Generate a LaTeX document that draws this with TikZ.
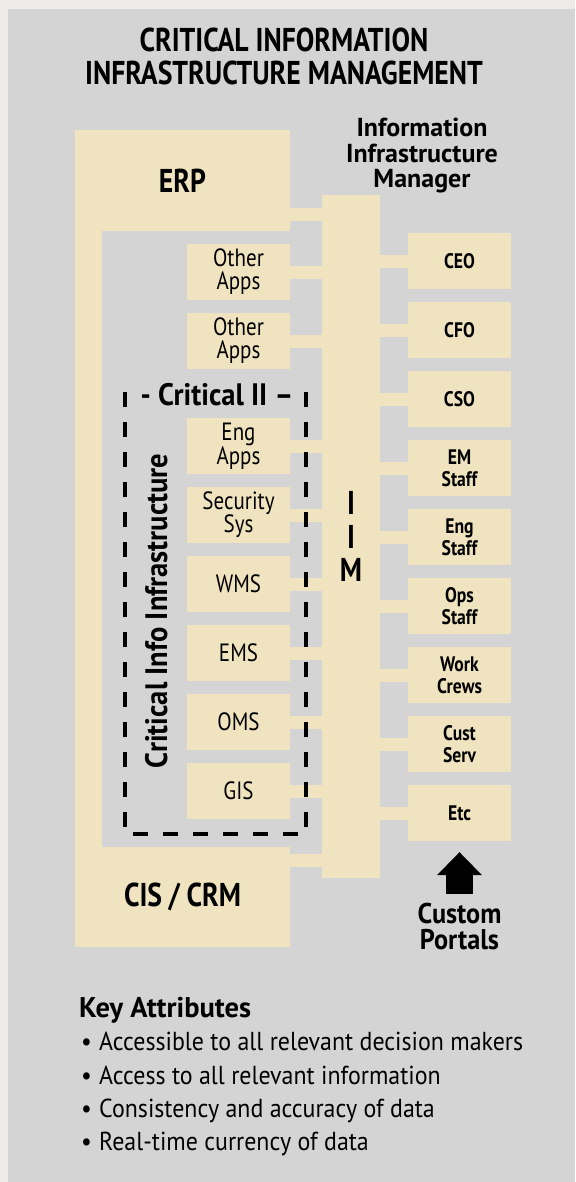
\documentclass[tikz,border=0pt]{standalone}
\usepackage{fontspec}
\setmainfont{PT Sans}[FakeStretch=0.84]
\newfontfamily\midsans{PT Sans}[FakeStretch=0.92]
\newfontfamily\plainsans{PT Sans}
\usepackage{xcolor}
\usepackage{tikz}
\usetikzlibrary{arrows.meta}

\definecolor{paper}{RGB}{238,236,233}
\definecolor{panelgray}{RGB}{212,212,212}
\definecolor{boxtan}{RGB}{240,228,192}

\begin{document}
\begin{tikzpicture}[x=1pt, y=-1pt,
    sysbox/.style={fill=boxtan, inner sep=0pt, minimum width=215pt, minimum height=101pt,
                   font=\bfseries\fontsize{33}{33}\selectfont},
    appbox/.style={fill=boxtan, inner sep=0pt, minimum width=103pt, minimum height=56pt,
                   align=center, font=\fontsize{25}{23}\selectfont},
    userbox/.style={appbox, font=\bfseries\fontsize{21}{22}\selectfont},
    heading/.style={inner sep=0pt, align=center, font=\bfseries\fontsize{33}{33}\selectfont},
    link/.style={draw=boxtan, line width=13pt},
    fence/.style={draw=black, line width=4pt, dash pattern=on 15pt off 15pt},
    portal/.style={line width=27pt, shorten <=9pt, shorten >=11pt,
                   -{Triangle[length=23pt 0, width=45pt 0, line width=0pt]}},
    keyline/.style={inner sep=0pt, anchor=base west, font=\midsans\fontsize{26}{33}\selectfont}
  ]
    \useasboundingbox (0,0) rectangle (575,1182);
    \fill[paper] (0,0) rectangle (575,1182);
    \fill[panelgray] (8,9) rectangle (575,1182);

    % title
    \node[heading] (title) at (284,56.5) {CRITICAL INFORMATION\\INFRASTRUCTURE MANAGEMENT};
    \node[heading, font=\plainsans\bfseries\fontsize{26}{25.5}\selectfont] (mgr) at (422,156)
      {Information\\Infrastructure\\Manager};

    % systems
    \node[sysbox] (erp) at (182.5,180.5) {ERP};
    \node[sysbox, minimum height=100pt] (cis) at (182.5,897) {CIS\hspace{0.2em}/\hspace{0.2em}CRM};
    \fill[boxtan] (erp.south west) rectangle ([xshift=27pt]cis.north west);
    \node[fill=boxtan, inner sep=0pt, minimum width=58pt, minimum height=683pt,
          align=center, font=\bfseries\fontsize{33}{33.5}\selectfont] (iim) at (351,536.5) {I\\I\\M};

    % applications
    \node[appbox] (oa1) at (238.5,272) {Other\\Apps};
    \node[appbox] (oa2) at (238.5,341) {Other\\Apps};
    \node[appbox] (engapps) at (238.5,446) {Eng\\Apps};
    \node[appbox] (secsys) at (238.5,515) {Security\\Sys};
    \node[appbox] (wms) at (238.5,584) {WMS};
    \node[appbox] (ems) at (238.5,653) {EMS};
    \node[appbox] (oms) at (238.5,722) {OMS};
    \node[appbox] (gis) at (238.5,791) {GIS};

    % users
    \node[userbox] (ceo) at (459.5,261) {CEO};
    \node[userbox] (cfo) at (459.5,330) {CFO};
    \node[userbox] (cso) at (459.5,399) {CSO};
    \node[userbox] (emstaff) at (459.5,468) {EM\\Staff};
    \node[userbox] (engstaff) at (459.5,537) {Eng\\Staff};
    \node[userbox] (opsstaff) at (459.5,606) {Ops\\Staff};
    \node[userbox] (crews) at (459.5,675) {Work\\Crews};
    \node[userbox] (custserv) at (459.5,744) {Cust\\Serv};
    \node[userbox] (etc) at (459.5,813) {Etc};

    % links into the manager
    \draw[link] ([yshift=-34pt]erp.east) -- ([yshift=-34pt]erp.east -| iim.west);
    \draw[link] ([yshift=37pt]cis.east) -- ([yshift=37pt]cis.east -| iim.west);
    \draw[link] (oa1.east) -- (oa1.east -| iim.west);
    \draw[link] (oa2.east) -- (oa2.east -| iim.west);
    \draw[link] (engapps.east) -- (engapps.east -| iim.west);
    \draw[link] (secsys.east) -- (secsys.east -| iim.west);
    \draw[link] (wms.east) -- (wms.east -| iim.west);
    \draw[link] (ems.east) -- (ems.east -| iim.west);
    \draw[link] (oms.east) -- (oms.east -| iim.west);
    \draw[link] (gis.east) -- (gis.east -| iim.west);
    \draw[link] (iim.east |- ceo) -- (ceo.west);
    \draw[link] (iim.east |- cfo) -- (cfo.west);
    \draw[link] (iim.east |- cso) -- (cso.west);
    \draw[link] (iim.east |- emstaff) -- (emstaff.west);
    \draw[link] (iim.east |- engstaff) -- (engstaff.west);
    \draw[link] (iim.east |- opsstaff) -- (opsstaff.west);
    \draw[link] (iim.east |- crews) -- (crews.west);
    \draw[link] (iim.east |- custserv) -- (custserv.west);
    \draw[link] (iim.east |- etc) -- (etc.west);

    % critical II frame
    \draw[fence] (125,392) -- (125,834) -- (306,834) -- (306,392);
    \node[heading, anchor=base, font=\midsans\bfseries\fontsize{31}{31}\selectfont] (critii) at (217,405) {- Critical II –};
    \node[heading, anchor=base, rotate=90, font=\midsans\bfseries\fontsize{31}{31}\selectfont] (cii) at (167,611)
      {Critical Info Infrastructure};

    % portals
    \node[heading, font=\midsans\bfseries\fontsize{28.5}{26}\selectfont] (portals) at (459.5,927) {Custom\\Portals};
    \draw[portal] (portals) -- (etc);

    % key attributes
    \node[keyline, font=\plainsans\bfseries\fontsize{28.5}{33}\selectfont] (keyhead) at (79,1017) {Key Attributes};
    \node[keyline] (key1) at (81,1050.7) {\makebox[18pt][l]{•}Accessible to all relevant decision makers};
    \node[keyline] (key2) at (81,1084) {\makebox[18pt][l]{•}Access to all relevant information};
    \node[keyline] (key3) at (81,1117.3) {\makebox[18pt][l]{•}Consistency and accuracy of data};
    \node[keyline] (key4) at (81,1150.7) {\makebox[18pt][l]{•}Real-time currency of data};
  \end{tikzpicture}
\end{document}
